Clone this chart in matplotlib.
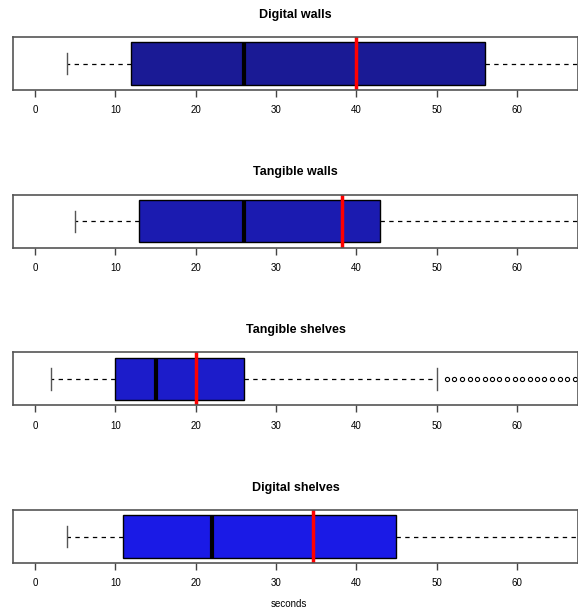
import matplotlib.pyplot as plt

plt.rcParams['font.family'] = ['Liberation Sans', 'DejaVu Sans']

titles = ["Digital walls", "Tangible walls", "Tangible shelves", "Digital shelves"]
colors = ["#1A1A95", "#1B1BB0", "#1C1CCA", "#1A1AE6"]
whis_lo = [4, 5, 2, 4]
q1 = [12, 13, 10, 11]
medians = [26, 26, 15, 22]
q3 = [56, 43, 26, 45]
whis_hi = [75, 75, 50, 75]
means = [39.9, 38.2, 20.0, 34.6]
fliers = [
    [],
    [],
    [51.3, 52.2, 53.2, 54.1, 55.0, 56.0, 56.9, 57.8, 58.8, 59.7,
     60.6, 61.6, 62.5, 63.4, 64.4, 65.3, 66.2, 67.2],
    [],
]
ticks = [0, 10, 20, 30, 40, 50, 60]


def main():
    fig = plt.figure(figsize=(5.78, 6.15), dpi=100)
    W, H = 578, 615
    for i in range(4):
        top = 37 + i * 157.7
        ax = fig.add_axes([13 / W, 1 - (top + 53) / H, 565 / W, 53 / H])
        stats = [{
            "whislo": whis_lo[i], "q1": q1[i], "med": medians[i],
            "q3": q3[i], "whishi": whis_hi[i], "fliers": fliers[i],
        }]
        ax.bxp(stats, orientation="horizontal", widths=0.8, patch_artist=True,
               boxprops=dict(facecolor=colors[i], edgecolor="black", linewidth=1),
               medianprops=dict(color="black", linewidth=3, solid_capstyle="butt"),
               whiskerprops=dict(color="black", linestyle=(0, (3.5, 3.5)), linewidth=0.9),
               capprops=dict(color="#555555", linewidth=1),
               capwidths=0.4,
               flierprops=dict(marker="o", markersize=3, markerfacecolor="none",
                               markeredgecolor="black", markeredgewidth=0.8,
                               linestyle="none"))
        ax.axvline(means[i], color="red", linewidth=2.5)
        ax.set_xlim(-2.75, 67.6)
        ax.set_ylim(0.5, 1.5)
        ax.set_yticks([])
        ax.set_xticks(ticks)
        ax.tick_params(axis="x", labelsize=7, length=5, width=1, color="#444444", pad=6)
        for s in ax.spines.values():
            s.set_color("#555555")
            s.set_linewidth(1.2)
        ax.set_title(titles[i], fontsize=9, fontweight="bold", pad=14)
    fig.text(0.5, 1 - 604 / H, "seconds", ha="center", va="center", fontsize=7)
    fig.savefig("out.png", dpi=100)


if __name__ == "__main__":
    main()
